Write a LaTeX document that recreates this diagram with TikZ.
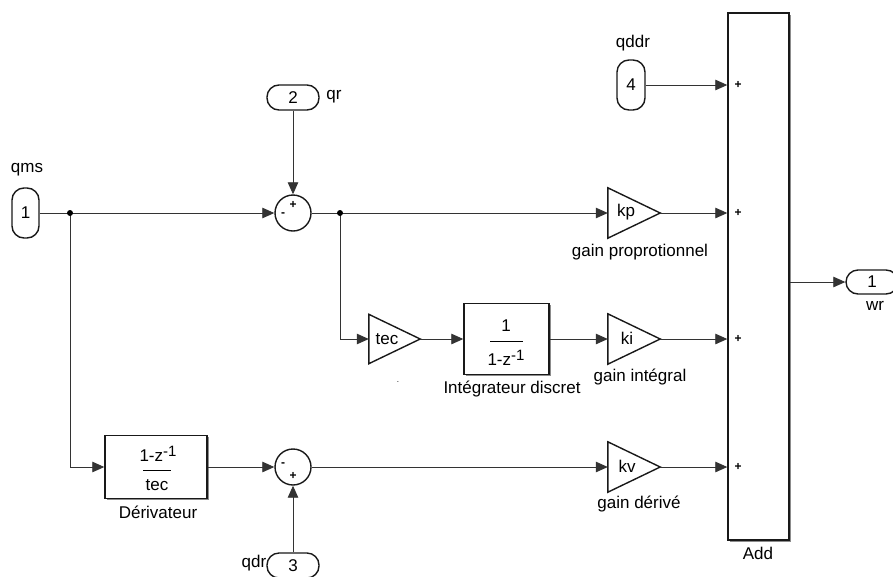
\documentclass[tikz,border=0pt]{standalone}
\usepackage{fontspec}
\setmainfont{Liberation Sans}
\usetikzlibrary{arrows.meta,shadows}
\newcommand{\zsup}{\raisebox{0.6ex}{\fontsize{15}{15}\selectfont -1}}
\begin{document}
\begin{tikzpicture}[x=1pt,y=-1pt,
  font=\fontsize{17}{19}\selectfont,
  wire/.style={draw=black!80, line width=0.85pt},
  arr/.style={wire, -{Triangle[length=12pt,width=10.5pt]}},
  blk/.style={draw=black!90, line width=1.4pt, inner sep=0pt},
  shd/.style={drop shadow={shadow xshift=1.6pt, shadow yshift=-1.6pt, fill=black!45, opacity=1}},
  shapeline/.style={draw=black!90, line width=1.4pt, line join=miter},
  port/.style={draw=black!90, line width=1.4pt, rounded corners=12pt, inner sep=0pt},
  gainbox/.style={inner sep=0pt, minimum width=52pt, minimum height=50pt},
  lbl/.style={inner sep=1pt},
  sgn/.style={font=\fontsize{12}{12}\selectfont\bfseries, inner sep=0pt}
]
\useasboundingbox (0,0) rectangle (893,576);
\clip (0,0) rectangle (893,576);

% ports
\node[port, minimum width=27pt, minimum height=50pt] (in1) at (25.5,213) {1};
\node[port, minimum width=28pt, minimum height=50pt] (in4) at (631,85) {4};
\node[port, minimum width=52pt, minimum height=25pt] (in2) at (293,97.5) {2};
\node[port, minimum width=52pt, minimum height=25pt] (in3) at (293,565.5) {3};
\node[port, minimum width=52pt, minimum height=24pt] (out1) at (872,282) {1};

% port labels
\node[lbl] (lqms) at (27,170) {qms};
\node[lbl] (lqr) at (334,97) {qr};
\node[lbl] (lqdr) at (254,563) {qdr};
\node[lbl] (lqddr) at (633,43) {qddr};
\node[lbl] (lwr) at (875,306) {wr};

% sums
\node[blk, circle, minimum size=36pt] (s1) at (293,213) {};
\node[blk, circle, minimum size=36pt] (s2) at (293,467) {};
\node[sgn] (s1p) at (293,205) {+};
\node[sgn] (s1m) at (283,215) {-};
\node[sgn] (s2m) at (283,465) {-};
\node[sgn] (s2p) at (293,476) {+};

% blocks
\node[blk, shd, fill=white, minimum width=85pt, minimum height=71pt] (integ) at (506.5,339) {};
\node (i1) at (506,326) {1};
\draw[line width=0.9pt] (490,341) -- (523,341);
\node (i2) at (506,358) {1-z\zsup};

\node[blk, shd, fill=white, minimum width=102pt, minimum height=63pt] (der) at (156,467) {};
\node (d1) at (158,454) {1-z\zsup};
\draw[line width=0.9pt] (143,470) -- (171,470);
\node (d2) at (157,485) {tec};

\node[blk, shd, fill=white, minimum width=61pt, minimum height=527pt] (add) at (758.5,276.5) {};

% gains
\node[gainbox, minimum width=51pt, minimum height=49pt] (tec) at (394.5,339) {};
\draw[shapeline] (tec.north west) -- (tec.east) -- (tec.south west) -- cycle;
\node (ttec) at (387,339) {tec};

\node[gainbox] (kp) at (634,213) {};
\draw[shapeline] (kp.north west) -- (kp.east) -- (kp.south west) -- cycle;
\node (tkp) at (626,212) {kp};

\node[gainbox] (ki) at (634,339) {};
\draw[shapeline] (ki.north west) -- (ki.east) -- (ki.south west) -- cycle;
\node (tki) at (627,338) {ki};

\node[gainbox] (kv) at (634,467) {};
\draw[shapeline] (kv.north west) -- (kv.east) -- (kv.south west) -- cycle;
\node (tkv) at (627,466) {kv};

% block labels
\node (lint) at (512,389) {Intégrateur discret};
\node (lder) at (158,512) {Dérivateur};
\node (lkp) at (640,252) {gain proprotionnel};
\node (lki) at (640,377) {gain intégral};
\node (lkv) at (639,504) {gain dérivé};
\node (ladd) at (758,553) {Add};
\node[font=\fontsize{8}{8}\selectfont] (dotl) at (398,382) {.};

% add signs
\foreach \yy in {85,213,339,467} \node[sgn, name=p\yy] at (738,\yy) {+};

% connectors
\coordinate (j1) at (70,213);
\coordinate (j2) at (340,213);
\draw[wire] (in1.east) -- (j1);
\draw[arr] (j1) -- (s1.west);
\draw[arr] (j1) |- (der.west);
\draw[arr] (in2.south) -- (s1.north);
\draw[wire] (s1.east) -- (j2);
\draw[arr] (j2) -- (kp.west);
\draw[arr] (j2) |- (tec.west);
\draw[arr] (tec.east) -- (integ.west);
\draw[arr] (integ.east) -- (ki.west);
\draw[arr] (der.east) -- (s2.west);
\draw[arr] (in3.north) -- (s2.south);
\draw[arr] (s2.east) -- (kv.west);
\draw[arr] (in4.east) -- (in4.east -| add.west);
\draw[arr] (kp.east) -- (kp.east -| add.west);
\draw[arr] (ki.east) -- (ki.east -| add.west);
\draw[arr] (kv.east) -- (kv.east -| add.west);
\draw[arr] (add.east |- out1.west) -- (out1.west);
\fill (j1) circle (3);
\fill (j2) circle (3);
\end{tikzpicture}
\end{document}
